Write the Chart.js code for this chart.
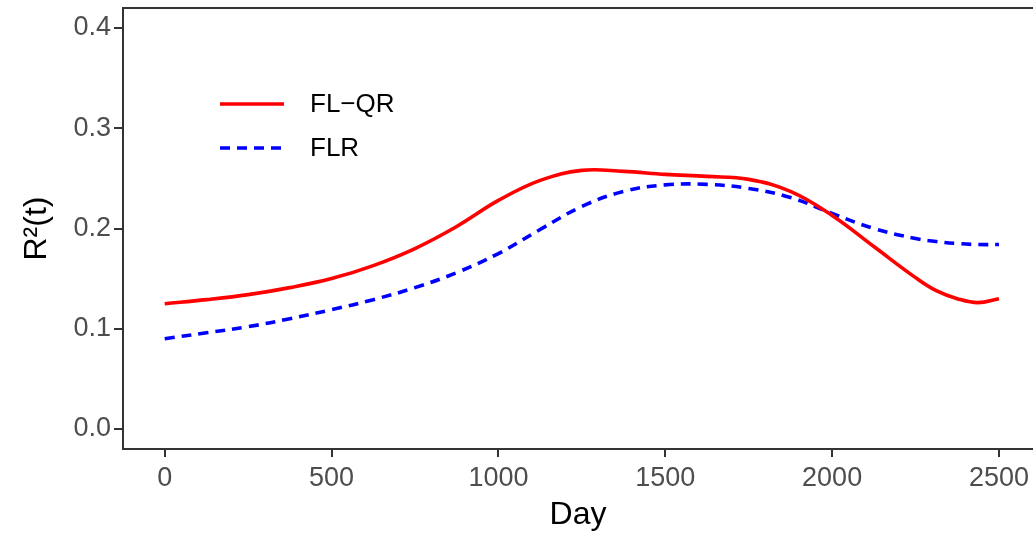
<!DOCTYPE html>
<html>
<head>
<meta charset="utf-8">
<script src="https://cdn.jsdelivr.net/npm/chart.js@4"></script>
<style>
  html, body { margin: 0; padding: 0; background: #fff; }
  #wrap { width: 1033px; height: 534px; }
</style>
</head>
<body>
<div id="wrap"><canvas id="chart"></canvas></div>
<script>
// days sampled along the curves
var days = [0, 125, 250, 375, 500, 625, 750, 875, 1000, 1125, 1250, 1375, 1500, 1625, 1750, 1875, 2000, 2125, 2250, 2312, 2375, 2437, 2500];
// R^2(t)
var flqr = [0.125, 0.129, 0.134, 0.141, 0.150, 0.163, 0.180, 0.202, 0.228, 0.248, 0.258, 0.257, 0.254, 0.252, 0.249, 0.237, 0.213, 0.182, 0.151, 0.138, 0.130, 0.126, 0.130];
var flr = [0.090, 0.096, 0.102, 0.110, 0.119, 0.129, 0.141, 0.156, 0.175, 0.199, 0.222, 0.237, 0.2435, 0.244, 0.240, 0.231, 0.215, 0.200, 0.190, 0.187, 0.185, 0.184, 0.184];
var xTicks = [0, 500, 1000, 1500, 2000, 2500];
var yTicks = [0.0, 0.1, 0.2, 0.3, 0.4];
var seriesNames = ["FL\u2212QR", "FLR"];

var FONT = "'Liberation Sans', Arial, sans-serif";
var AXIS = "#333333";

function toXY(xs, ys) {
  return xs.map(function (d, i) { return { x: d, y: ys[i] }; });
}

// legend inside the panel plus the top border line
var extras = {
  id: "extras",
  afterDraw: function (chart) {
    var ctx = chart.ctx;
    var area = chart.chartArea;
    ctx.save();
    ctx.strokeStyle = AXIS;
    ctx.lineWidth = 2;
    ctx.beginPath();
    ctx.moveTo(area.left, area.top);
    ctx.lineTo(area.right, area.top);
    ctx.stroke();

    chart.data.datasets.forEach(function (ds, i) {
      var y = 104 + i * 44;
      ctx.strokeStyle = ds.borderColor;
      ctx.lineWidth = ds.borderWidth;
      ctx.setLineDash(ds.borderDash || []);
      ctx.beginPath();
      ctx.moveTo(220, y);
      ctx.lineTo(284, y);
      ctx.stroke();
      ctx.setLineDash([]);
      ctx.fillStyle = "#000";
      ctx.font = "26px " + FONT;
      ctx.textBaseline = "middle";
      ctx.fillText(ds.label, 310, y + 1);
    });
    ctx.restore();
  }
};

new Chart(document.getElementById("chart"), {
  type: "line",
  data: {
    datasets: [
      {
        label: seriesNames[0],
        data: toXY(days, flqr),
        borderColor: "#ff0000",
        borderWidth: 3.6,
        pointRadius: 0,
        tension: 0.4,
        fill: false,
      },
      {
        label: seriesNames[1],
        data: toXY(days, flr),
        borderColor: "#0000ff",
        borderWidth: 3.6,
        borderDash: [10, 7],
        pointRadius: 0,
        tension: 0.4,
        fill: false,
      },
    ],
  },
  options: {
    responsive: true,
    maintainAspectRatio: false,
    animation: false,
    layout: { padding: { top: 8, left: 0, right: 0, bottom: 0 } },
    plugins: { legend: { display: false }, tooltip: { enabled: false } },
    scales: {
      x: {
        type: "linear",
        min: -125,
        max: 2602,
        afterFit: function (s) { s.height = 85; s.paddingLeft = 0; s.paddingRight = 0; },
        afterBuildTicks: function (s) {
          s.ticks = xTicks.map(function (v) { return { value: v }; });
        },
        border: { display: true, color: AXIS, width: 2 },
        grid: { drawOnChartArea: false, drawTicks: true, tickLength: 8, color: AXIS, lineWidth: 2 },
        ticks: {
          color: "#4d4d4d",
          font: { family: FONT, size: 27 },
          padding: 5,
          maxRotation: 0,
          callback: function (v) { return String(v); },
        },
        title: {
          display: true,
          text: "Day",
          color: "#000",
          font: { family: FONT, size: 32 },
          padding: { top: 0, bottom: 0 },
        },
      },
      y: {
        type: "linear",
        min: -0.02,
        max: 0.42,
        afterFit: function (s) { s.width = 123; s.paddingTop = 0; s.paddingBottom = 0; },
        afterBuildTicks: function (s) {
          s.ticks = yTicks.map(function (v) { return { value: v }; });
        },
        border: { display: true, color: AXIS, width: 2 },
        grid: { drawOnChartArea: false, drawTicks: true, tickLength: 9, color: AXIS, lineWidth: 2 },
        ticks: {
          color: "#4d4d4d",
          font: { family: FONT, size: 27 },
          padding: 3,
          callback: function (v) { return v.toFixed(1); },
        },
        title: {
          display: true,
          text: "R\u00B2(t)",
          color: "#000",
          font: { family: FONT, size: 32 },
          padding: { top: 18, bottom: 0 },
        },
      },
    },
  },
  plugins: [extras],
});
</script>
</body>
</html>
